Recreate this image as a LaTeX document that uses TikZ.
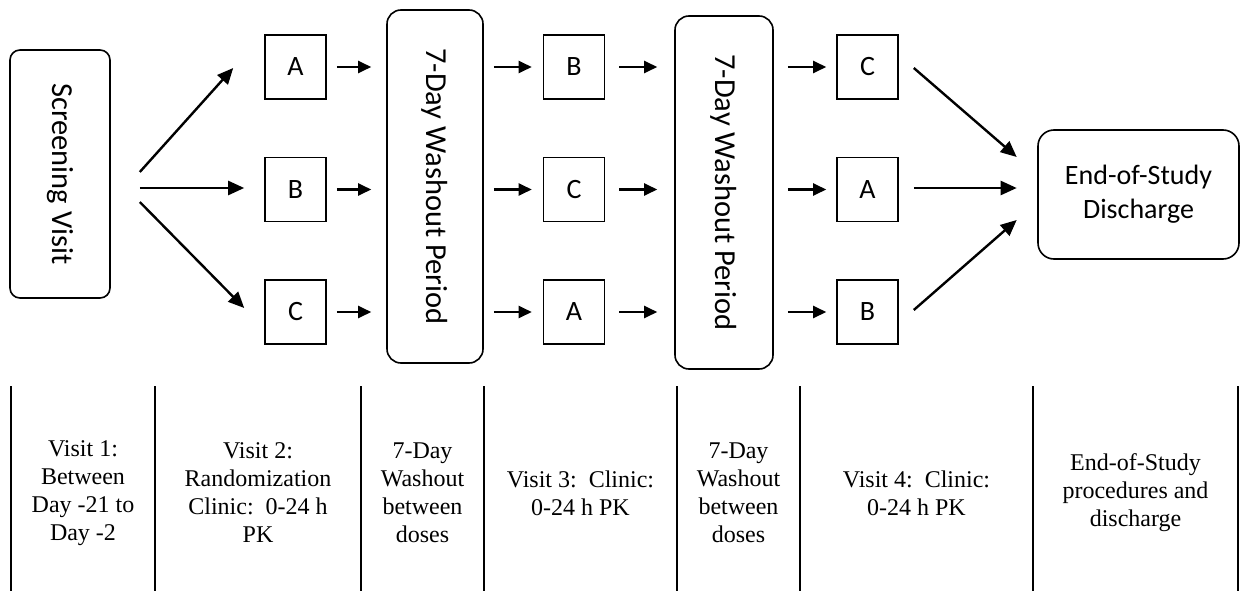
\documentclass[tikz,border=0pt]{standalone}
\usepackage{fontspec}
\setmainfont{Liberation Serif}
\newfontfamily\chartfont{Carlito}
\usetikzlibrary{arrows.meta}
\tikzstyle{node:round}=[draw,line width=1.6pt,inner sep=0pt,align=center,font=\chartfont\fontsize{28}{34}\selectfont]
\tikzstyle{node:upright}=[font=\chartfont\fontsize{30.5}{34}\selectfont]
\tikzstyle{node:drug}=[draw,line width=1.6pt,minimum width=61pt,minimum height=64pt,inner sep=0pt,font=\chartfont\fontsize{28}{34}\selectfont]
\tikzstyle{node:note}=[align=center,font=\fontsize{24}{28}\selectfont]
\tikzstyle{draw:connection}=[-{Triangle[length=13pt,width=12pt]},line width=2.4pt]
\tikzstyle{draw:fan}=[-{Triangle[length=16pt,width=14pt]},line width=2.4pt]
\tikzstyle{draw:rule}=[line width=1.3pt]

\begin{document}
\begin{tikzpicture}[x=1pt,y=-1pt]
        \useasboundingbox (0,0) rectangle (1241,591);

        % Screening visit
        \node[node:round,node:upright,rounded corners=10pt,minimum width=100pt,minimum height=248pt] (S) at (60,174) {\rotatebox{-90}{Screening Visit}};

        % First period (3 nodes)
        \node[node:drug] (P1-1) at (295.5,67) {A};
        \node[node:drug] (P1-2) at (295.5,189.5) {B};
        \node[node:drug] (P1-3) at (295.5,312) {C};

        % Washouts
        \node[node:round,node:upright,rounded corners=14pt,minimum width=96pt,minimum height=353pt] (W1) at (435,186.5) {\rotatebox{-90}{7-Day Washout Period}};
        \node[node:round,node:upright,rounded corners=14pt,minimum width=98pt,minimum height=353pt] (W2) at (724,192.5) {\rotatebox{-90}{7-Day Washout Period}};

        % Second period (3 nodes)
        \node[node:drug] (P2-1) at (574,67) {B};
        \node[node:drug] (P2-2) at (574,189.5) {C};
        \node[node:drug] (P2-3) at (574,312) {A};

        % Third period (3 nodes)
        \node[node:drug] (P3-1) at (867.5,67) {C};
        \node[node:drug] (P3-2) at (867.5,189.5) {A};
        \node[node:drug] (P3-3) at (867.5,312) {B};

        % End of study
        \node[node:round,rounded corners=16pt,minimum width=201pt,minimum height=129pt] (E) at (1138.5,194.5) {End-of-Study\\Discharge};

        % draw:fan from screening to first period
        \draw[draw:fan] ([shift={(29,-2)}]S.east) -- ([shift={(-31,1)}]P1-1.west);
        \draw[draw:fan] ([shift={(29,14)}]S.east) -- ([shift={(-20,-1.5)}]P1-2.west);
        \draw[draw:fan] ([shift={(29,28)}]S.east) -- ([shift={(-20,-4)}]P1-3.west);

        % draw:connections through the washouts
        \foreach \i in {1,2,3} {
                \draw[draw:connection,shorten <=10pt,shorten >=15pt] (P1-\i.east) -- (W1.west |- P1-\i);
                \draw[draw:connection,shorten <=10pt,shorten >=11pt] (W1.east |- P2-\i) -- (P2-\i.west);
                \draw[draw:connection,shorten <=14pt,shorten >=17pt] (P2-\i.east) -- (W2.west |- P2-\i);
                \draw[draw:connection,shorten <=14pt,shorten >=10pt] (W2.east |- P3-\i) -- (P3-\i.west);
            }

        % draw:fan from third period to end of study
        \draw[draw:fan] ([shift={(15,1)}]P3-1.east) -- ([shift={(-20.5,-37.5)}]E.west);
        \draw[draw:fan] ([shift={(15,-1.5)}]P3-2.east) -- ([shift={(-20.5,-6.5)}]E.west);
        \draw[draw:fan] ([shift={(15,-2)}]P3-3.east) -- ([shift={(-20.5,25.5)}]E.west);

        % Timeline table
        \foreach \x in {11,155,361,484,677,800,1033,1238} {
                \draw[draw:rule] (\x,386) -- (\x,592);
            }
        \node[node:note] (T1) at (83,493) {Visit 1:\\Between\\Day -21 to\\Day -2};
        \node[node:note] (T2) at (258,493) {Visit 2:\\Randomization\\Clinic:\ \ 0-24 h\\PK};
        \node[node:note] (T3) at (422.5,493) {7-Day\\Washout\\between\\doses};
        \node[node:note] (T4) at (580.5,493) {Visit 3:\ \ Clinic:\\0-24 h PK};
        \node[node:note] (T5) at (738.5,493) {7-Day\\Washout\\between\\doses};
        \node[node:note] (T6) at (916.5,493) {Visit 4:\ \ Clinic:\\0-24 h PK};
        \node[node:note] (T7) at (1135.5,493) {End-of-Study\\procedures and\\discharge};

    \end{tikzpicture}
\end{document}
